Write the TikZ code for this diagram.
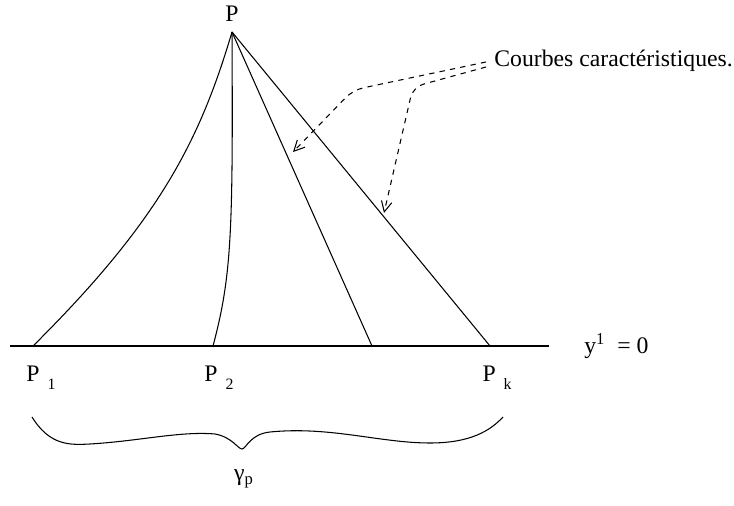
\documentclass[tikz,border=0pt]{standalone}
\usepackage{fontspec}
\setmainfont{Liberation Serif}
\usetikzlibrary{arrows.meta,positioning,calc}

\tikzset{
  courbe/.style={line width=0.6pt},
  fleche/.style={dashed, line width=0.6pt, rounded corners=6pt, -{Straight Barb[length=6pt,width=6pt]}},
  lab/.style={inner sep=0pt, font=\fontsize{13.5}{15}\selectfont}
}

\begin{document}
\begin{tikzpicture}[x=0.02cm, y=-0.02cm]
  \useasboundingbox (0,0) rectangle (734,506);

  % Apex and base points
  \coordinate (apex) at (232,32);
  \coordinate (b1) at (33,346);
  \coordinate (b2) at (213,346);
  \coordinate (b3) at (372,346);
  \coordinate (bk) at (490,346);
  \coordinate (axL) at (10,346);
  \coordinate (axR) at (549,346);

  % Axis y^1 = 0
  \draw[line width=0.9pt] (axL) -- (axR);
  \node[lab, anchor=west] (axe) at (584,346) {y\textsuperscript{1}\ \ = 0};

  % Characteristic curves
  \draw[courbe] (apex) .. controls (200,140) and (160,220) .. (b1);
  \draw[courbe] (apex) .. controls (233,230) and (232,275) .. (b2);
  \draw[courbe] (apex) -- (b3);
  \draw[courbe] (apex) -- (bk);

  % Labels
  \node[lab, above=6pt of apex] (P) {P};
  \node[lab] (P1) at (41,378) {P\,\,\raisebox{-0.7ex}{\small 1}};
  \node[lab] (P2) at (219,378) {P\,\,\raisebox{-0.7ex}{\small 2}};
  \node[lab] (Pk) at (497,378) {P\,\,\raisebox{-0.7ex}{\small k}};

  % Legend with dashed arrows
  \node[lab, anchor=west] (cc) at (494,61) {Courbes caractéristiques.};
  \coordinate (t1) at (293,152);
  \coordinate (t2) at (384,213);
  \draw[fleche] ($(cc.west)+(-8,1)$) -- (353,90) -- (t1);
  \draw[fleche] ($(cc.west)+(-8,6)$) -- (413,87) -- (t2);

  % Brace under the base points
  \draw[courbe] (32,417) .. controls (50,446) and (70,445) .. (90,444)
    .. controls (140,441) and (180,431) .. (215,434)
    .. controls (232,437) and (238,449) .. (242,449)
    .. controls (246,449) and (250,434) .. (270,432)
    .. controls (330,426) and (380,443) .. (430,443)
    .. controls (470,443) and (490,431) .. (503,417);
  \node[lab] (gam) at (244,479) {γ\textsubscript{p}};
\end{tikzpicture}
\end{document}
